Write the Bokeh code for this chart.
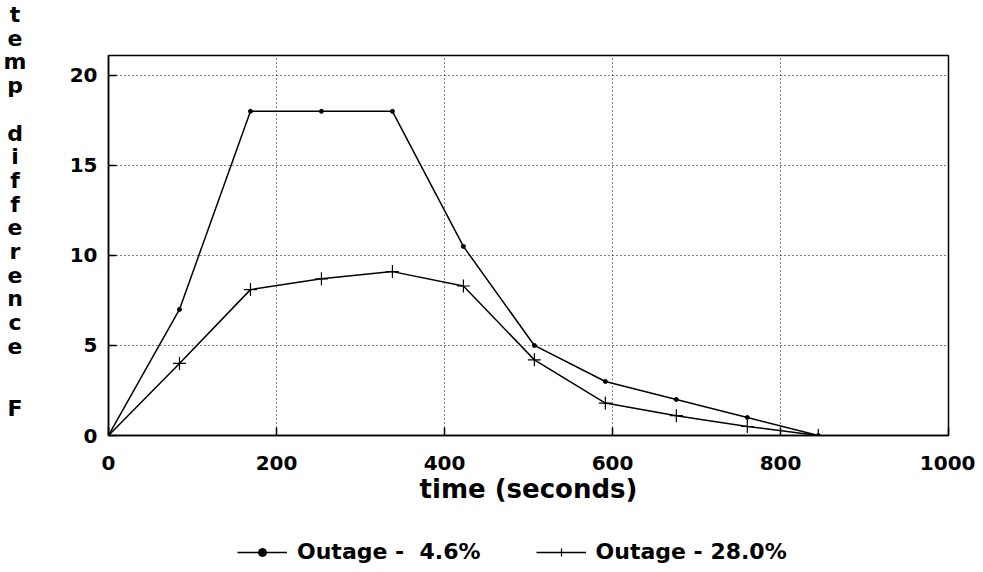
from bokeh.plotting import figure
from bokeh.models import Range1d, Legend, LegendItem, SingleIntervalTicker, Div
from bokeh.layouts import row, column
from bokeh.embed import file_html
from bokeh.resources import INLINE

# ---- data ----
time_s = [0, 84.5, 169, 253.5, 338, 422.5, 507, 591.5, 676, 760.5, 845]
outage_46 = [0, 7.0, 18.0, 18.0, 18.0, 10.5, 5.0, 3.0, 2.0, 1.0, 0.0]
outage_280 = [0, 4.0, 8.1, 8.7, 9.1, 8.3, 4.2, 1.8, 1.1, 0.5, 0.0]
series_names = ["Outage -  4.6%", "Outage - 28.0%"]
y_label_text = "temp difference F"
x_label_text = "time (seconds)"

FONT = "DejaVu Sans"
NAN = float("nan")

# ---------------- main plot ----------------
p = figure(width=935, height=515, output_backend="svg", toolbar_location=None,
           x_range=Range1d(0, 1000), y_range=Range1d(0, 21.1),
           min_border_left=68, min_border_right=27, min_border_top=55,
           min_border_bottom=80)
p.background_fill_color = "white"
p.border_fill_color = "white"
p.outline_line_color = "black"
p.outline_line_width = 1.5

p.xaxis.ticker = SingleIntervalTicker(interval=200, num_minor_ticks=0)
p.yaxis.ticker = SingleIntervalTicker(interval=5, num_minor_ticks=0)
for ax in (p.xaxis[0], p.yaxis[0]):
    ax.axis_line_color = "black"
    ax.axis_line_width = 1.5
    ax.major_tick_in = 8
    ax.major_tick_out = 0
    ax.major_tick_line_color = "black"
    ax.major_tick_line_width = 1.5
    ax.minor_tick_line_color = None
    ax.major_label_text_font = FONT
    ax.major_label_text_font_style = "bold"
    ax.major_label_text_font_size = "20px"
    ax.major_label_text_color = "black"
p.xaxis.major_label_standoff = 20
p.yaxis.major_label_standoff = 11
p.xaxis.axis_label = x_label_text
p.xaxis.axis_label_text_font = FONT
p.xaxis.axis_label_text_font_style = "bold"
p.xaxis.axis_label_text_font_size = "26px"
p.xaxis.axis_label_text_color = "black"
p.xaxis.axis_label_standoff = 1

p.xgrid.grid_line_color = "black"
p.ygrid.grid_line_color = "black"
p.xgrid.grid_line_dash = "1 3"
p.ygrid.grid_line_dash = "1 3"
p.xgrid.grid_line_width = 1
p.ygrid.grid_line_width = 1

p.line(time_s, outage_46, line_color="black", line_width=1.5)
p.scatter(time_s, outage_46, marker="circle", size=4, color="black")
p.line(time_s, outage_280, line_color="black", line_width=1.5)
p.scatter(time_s, outage_280, marker="cross", size=13, line_color="black", line_width=1.2)

# ---------------- stacked y label (one upright letter per row) ----------------
spans = []
r = 0
for word in y_label_text.split(" "):
    for ch in word:
        cy = 409 if ch == "F" else 15 + 23.7 * r
        spans.append(
            f'<div style="position:absolute;left:0;width:30px;top:{cy - 13:.1f}px;'
            f'height:26px;line-height:26px;text-align:center;">{ch}</div>')
        r += 1
    r += 1
lab = Div(text=(f'<div style="position:relative;width:40px;height:515px;'
                f'font-family:\'{FONT}\';font-weight:bold;font-size:22px;color:black;">'
                + "".join(spans) + "</div>"),
          width=40, height=515, margin=0)

# ---------------- legend strip ----------------
leg = figure(width=975, height=49, output_backend="svg", toolbar_location=None,
             x_range=Range1d(0, 975), y_range=Range1d(0, 49),
             x_axis_type=None, y_axis_type=None, min_border=0)
leg.outline_line_color = None
leg.xgrid.visible = False
leg.ygrid.visible = False
leg.background_fill_color = "white"
leg.border_fill_color = "white"
# invisible proxies (NaN) that only provide the legend glyph styles
k1 = leg.line(x=[NAN], y=[NAN], line_color="black", line_width=1.5)
s1 = leg.scatter(x=[NAN], y=[NAN], marker="circle", size=4, color="black")
k2 = leg.line(x=[NAN], y=[NAN], line_color="black", line_width=1.5)
s2 = leg.scatter(x=[NAN], y=[NAN], marker="cross", size=13, line_color="black", line_width=1.2)
legend = Legend(items=[LegendItem(label=series_names[0], renderers=[k1, s1]),
                       LegendItem(label=series_names[1], renderers=[k2, s2])],
                orientation="horizontal", location=(237, 0),
                padding=0, margin=0, spacing=55, label_standoff=10,
                glyph_width=50, glyph_height=20,
                border_line_color=None, background_fill_alpha=0)
legend.label_text_font = FONT
legend.label_text_font_style = "bold"
legend.label_text_font_size = "22px"
legend.label_text_color = "black"
leg.add_layout(legend, "center")

page = column(row(lab, p), leg)
open("out.html", "w").write(file_html(page, INLINE))
